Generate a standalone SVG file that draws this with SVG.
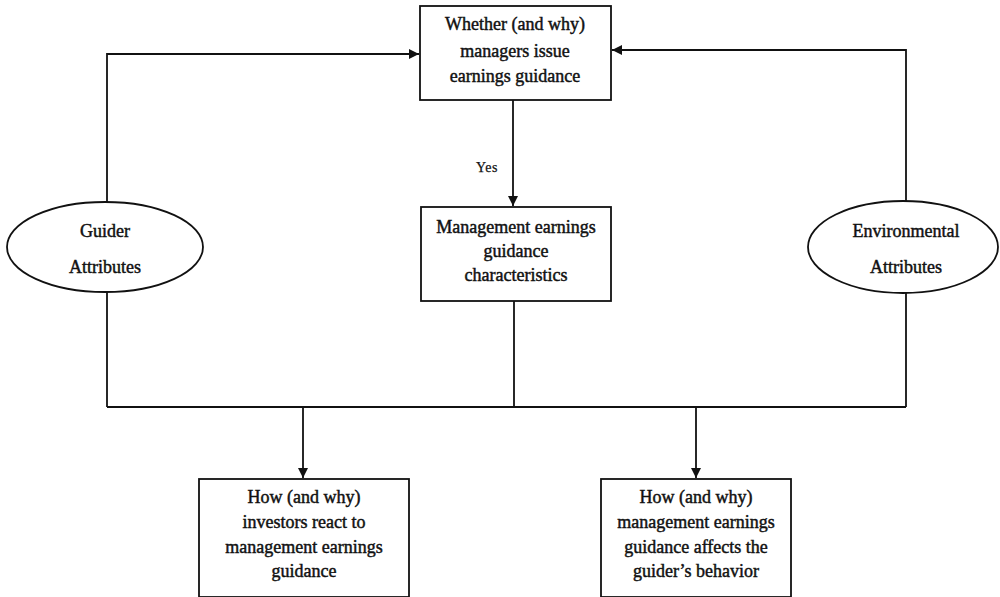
<svg xmlns="http://www.w3.org/2000/svg" width="1000" height="597" viewBox="0 0 1000 597">
<style>
.box{fill:#fff;stroke:#111;stroke-width:1.8}
.ln{fill:none;stroke:#111;stroke-width:1.8}
text{font-family:"Liberation Serif","Times New Roman",serif;font-size:18px;fill:#111;text-anchor:middle;stroke:#111;stroke-width:0.45}
.small{font-size:14px;stroke-width:0.25;letter-spacing:0.5px}
</style>
<defs>
<marker id="ah" viewBox="0 0 10 10" refX="10" refY="5" markerWidth="10" markerHeight="10" markerUnits="userSpaceOnUse" orient="auto">
<path d="M0,0 L10,5 L0,10 Z" fill="#111"/>
</marker>
</defs>
<g id="connectors">
<polyline class="ln" points="107,202 107,54 419,54" marker-end="url(#ah)"/>
<polyline class="ln" points="906,202 906,50 612,50" marker-end="url(#ah)"/>
<line class="ln" x1="513" y1="100" x2="513" y2="206" marker-end="url(#ah)"/>
<text class="small" x="487" y="172">Yes</text>
<line class="ln" x1="107" y1="292" x2="107" y2="407"/>
<line class="ln" x1="906" y1="293" x2="906" y2="407"/>
<line class="ln" x1="514" y1="301" x2="514" y2="407"/>
<line class="ln" x1="107" y1="407" x2="906" y2="407"/>
<line class="ln" x1="303" y1="407" x2="303" y2="478" marker-end="url(#ah)"/>
<line class="ln" x1="696" y1="407" x2="696" y2="478" marker-end="url(#ah)"/>
</g>
<g id="whether">
<rect class="box" x="420" y="6" width="191" height="94"/>
<text x="515" y="30">Whether (and why)</text>
<text x="515" y="57">managers issue</text>
<text x="515" y="82">earnings guidance</text>
</g>
<g id="characteristics">
<rect class="box" x="421" y="207" width="190" height="94"/>
<text x="516" y="233">Management earnings</text>
<text x="516" y="257">guidance</text>
<text x="516" y="281">characteristics</text>
</g>
<g id="guider">
<ellipse class="box" cx="105" cy="247" rx="98" ry="45"/>
<text x="105" y="237">Guider</text>
<text x="105" y="273">Attributes</text>
</g>
<g id="environmental">
<ellipse class="box" cx="903" cy="247" rx="95" ry="46"/>
<text x="906" y="237">Environmental</text>
<text x="906" y="273">Attributes</text>
</g>
<g id="investors">
<rect class="box" x="199" y="479" width="210" height="118"/>
<text x="304" y="503">How (and why)</text>
<text x="304" y="528">investors react to</text>
<text x="304" y="553">management earnings</text>
<text x="304" y="577">guidance</text>
</g>
<g id="behavior">
<rect class="box" x="601" y="479" width="190" height="118"/>
<text x="696" y="503">How (and why)</text>
<text x="696" y="528">management earnings</text>
<text x="696" y="553">guidance affects the</text>
<text x="696" y="577">guider’s behavior</text>
</g>
</svg>
